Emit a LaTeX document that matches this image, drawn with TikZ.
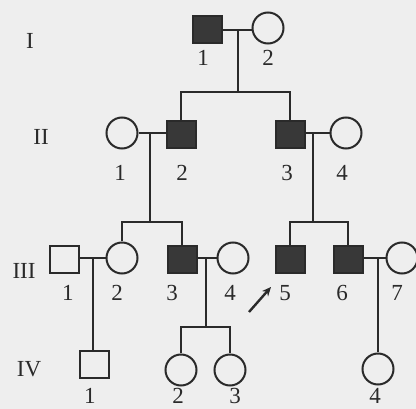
\documentclass[tikz,border=0pt]{standalone}
\usepackage{fontspec}
\setmainfont{Liberation Serif}
\usetikzlibrary{arrows.meta}
\definecolor{bg}{HTML}{EEEEEE}
\definecolor{ink}{HTML}{2A2A2A}
\definecolor{aff}{HTML}{383838}
\begin{document}
\begin{tikzpicture}[x=1pt,y=-1pt,
  male/.style={draw=ink,line width=2pt,rectangle,minimum width=29pt,minimum height=27pt,inner sep=0pt},
  affm/.style={male,fill=aff},
  female/.style={draw=ink,line width=2pt,circle,minimum size=31pt,inner sep=0pt},
  lab/.style={text=ink,font=\fontsize{23}{23}\selectfont,inner sep=0pt},
  gen/.style={text=ink,font=\fontsize{23}{23}\selectfont,inner sep=0pt},
  link/.style={draw=ink,line width=2pt}]
\fill[bg] (0,0) rectangle (416,409);
\useasboundingbox (0,0) rectangle (416,409);
% generation labels
\node[gen] (gI) at (30,41) {I};
\node[gen] (gII) at (41,137) {II};
\node[gen] (gIII) at (24,271) {III};
\node[gen] (gIV) at (29,369) {IV};
% generation I
\node[affm] (I1) at (207,30) {};
\node[female] (I2) at (268,28) {};
% generation II
\node[female] (II1) at (122,133) {};
\node[affm] (II2) at (181,135) {};
\node[affm] (II3) at (290,135) {};
\node[female] (II4) at (346,133) {};
% generation III
\node[male] (III1) at (64,260) {};
\node[female] (III2) at (122,258) {};
\node[affm] (III3) at (182,260) {};
\node[female] (III4) at (233,258) {};
\node[affm] (III5) at (290,260) {};
\node[affm] (III6) at (348,260) {};
\node[female] (III7) at (402,258) {};
% generation IV
\node[male] (IV1) at (94,365) {};
\node[female] (IV2) at (181,370) {};
\node[female] (IV3) at (230,370) {};
\node[female] (IV4) at (378,369) {};
% number labels
\node[lab] (tI1) at (203,58) {1};
\node[lab] (tI2) at (268,58) {2};
\node[lab] (tII1) at (120,173) {1};
\node[lab] (tII2) at (182,173) {2};
\node[lab] (tII3) at (287,173) {3};
\node[lab] (tII4) at (342,173) {4};
\node[lab] (tIII1) at (68,293) {1};
\node[lab] (tIII2) at (117,293) {2};
\node[lab] (tIII3) at (172,293) {3};
\node[lab] (tIII4) at (230,293) {4};
\node[lab] (tIII5) at (285,293) {5};
\node[lab] (tIII6) at (342,293) {6};
\node[lab] (tIII7) at (397,293) {7};
\node[lab] (tIV1) at (90,396) {1};
\node[lab] (tIV2) at (178,396) {2};
\node[lab] (tIV3) at (235,396) {3};
\node[lab] (tIV4) at (375,396) {4};
% junction coordinates
\coordinate (m1) at (238,30);
\coordinate (s1) at (238,92);
\coordinate (m2) at (150,133);
\coordinate (s2) at (150,222);
\coordinate (m3) at (313,133);
\coordinate (s3) at (313,222);
\coordinate (m4) at (93,259);
\coordinate (m5) at (206,259);
\coordinate (s5) at (206,327);
\coordinate (m6) at (378,259);
\coordinate (a1) at (249,312);
\coordinate (a2) at (271,287);
% connectors
\draw[link] (I1.east) -- (I2.west |- I1.east);
\draw[link] (m1) -- (s1);
\draw[link] (II2.north) |- (s1) -| (II3.north);
\draw[link] (II1.east) -- (II2.west |- II1.east);
\draw[link] (m2) -- (s2);
\draw[link] (III2.north) |- (s2) -| (III3.north);
\draw[link] (II3.east |- II4.west) -- (II4.west);
\draw[link] (m3) -- (s3);
\draw[link] (III5.north) |- (s3) -| (III6.north);
\draw[link] (III1.east |- III2.west) -- (III2.west);
\draw[link] (m4) -- (m4 |- IV1.north);
\draw[link] (III3.east |- III4.west) -- (III4.west);
\draw[link] (m5) -- (s5);
\draw[link] (IV2.north) |- (s5) -| (IV3.north);
\draw[link] (III6.east |- III7.west) -- (III7.west);
\draw[link] (m6) -- (IV4.north);
\draw[link,line width=2.4pt,-{Stealth[length=9pt,width=8pt]}] (a1) -- (a2);
\end{tikzpicture}
\end{document}
